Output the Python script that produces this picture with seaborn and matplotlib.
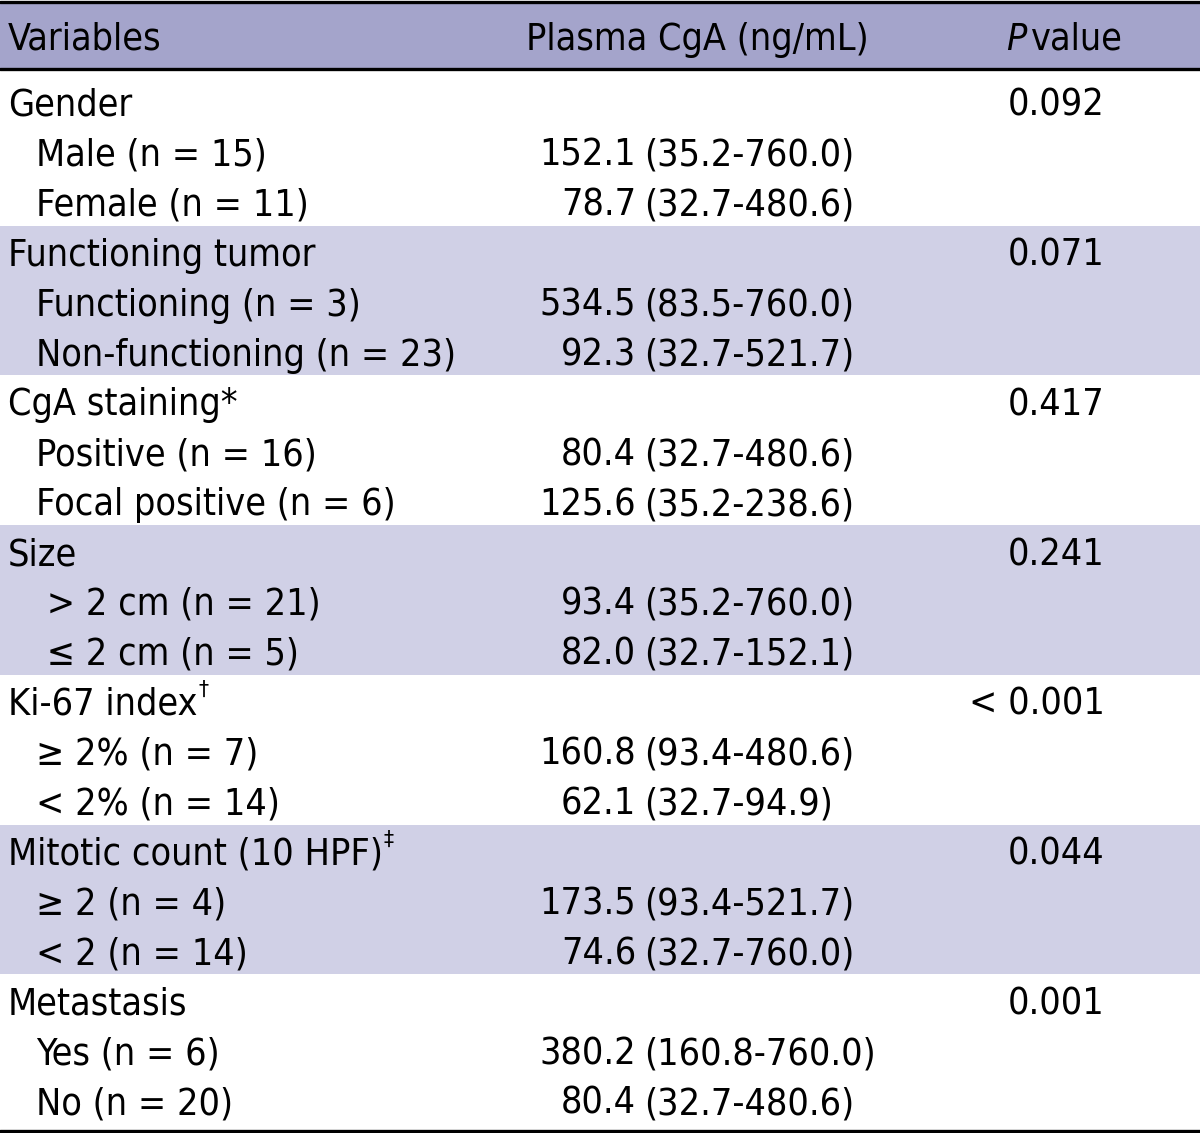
import matplotlib
matplotlib.use("Agg")
import matplotlib.pyplot as plt
from matplotlib import font_manager
import seaborn as sns

# table content
groups = ["Gender", "Functioning tumor", "CgA staining*", "Size",
          "Ki-67 index", "Mitotic count (10 HPF)", "Metastasis"]
group_marks = ["", "", "", "", "\u2020", "\u2021", ""]
p_values = ["0.092", "0.071", "0.417", "0.241", "< 0.001", "0.044", "0.001"]
sub_labels = [["Male (n = 15)", "Female (n = 11)"],
              ["Functioning (n = 3)", "Non-functioning (n = 23)"],
              ["Positive (n = 16)", "Focal positive (n = 6)"],
              [" > 2 cm (n = 21)", " \u2264 2 cm (n = 5)"],
              ["\u2265 2% (n = 7)", "< 2% (n = 14)"],
              ["\u2265 2 (n = 4)", "< 2 (n = 14)"],
              ["Yes (n = 6)", "No (n = 20)"]]
medians = [["152.1", "78.7"], ["534.5", "92.3"], ["80.4", "125.6"],
           ["93.4", "82.0"], ["160.8", "62.1"], ["173.5", "74.6"],
           ["380.2", "80.4"]]
ranges = [["(35.2-760.0)", "(32.7-480.6)"], ["(83.5-760.0)", "(32.7-521.7)"],
          ["(32.7-480.6)", "(35.2-238.6)"], ["(35.2-760.0)", "(32.7-152.1)"],
          ["(93.4-480.6)", "(32.7-94.9)"], ["(93.4-521.7)", "(32.7-760.0)"],
          ["(160.8-760.0)", "(32.7-480.6)"]]
headers = ["Variables", "Plasma CgA (ng/mL)", "value"]

sns.set_theme(style="white")
names = {f.name for f in font_manager.fontManager.ttflist}
stretch = "normal"
if "Liberation Sans Narrow" in names:
    fam = "Liberation Sans Narrow"
else:
    fam = "DejaVu Sans"
    stretch = "condensed"
plt.rcParams["font.family"] = [fam, "DejaVu Sans"]
plt.rcParams["font.stretch"] = stretch
plt.rcParams["text.color"] = "black"

header_bg = "#a4a4cb"
band_bg = "#d0d0e6"
fs = 27

fig = plt.figure(figsize=(12, 11.33), dpi=100)
ax = fig.add_axes([0, 0, 1, 1])
ax.set_xlim(0, 1200)
ax.set_ylim(1133, 0)
ax.axis("off")

pitch = 49.9
base0 = 116

# header
ax.axhspan(2, 69, color=header_bg, lw=0)
ax.axhline(2, color="black", lw=2.4)
ax.axhline(69, color="black", lw=2.4)
ax.text(8, 50, headers[0], fontsize=fs, ha="left", va="baseline")
ax.text(697, 50, headers[1], fontsize=fs, ha="center", va="baseline")
ax.text(1026, 50, "P", fontsize=fs, ha="right", va="baseline", style="italic")
ax.text(1031, 50, headers[2], fontsize=fs, ha="left", va="baseline")

fig.canvas.draw()
renderer = fig.canvas.get_renderer()

for g, name in enumerate(groups):
    top = 70 if g == 0 else base0 + 3 * g * pitch - 40
    bot = 1131 if g == len(groups) - 1 else base0 + 3 * (g + 1) * pitch - 40
    if g % 2 == 1:
        ax.axhspan(top, bot, color=band_bg, lw=0)
    yb = base0 + 3 * g * pitch
    t = ax.text(8, yb, name, fontsize=fs, ha="left", va="baseline")
    if group_marks[g]:
        ext = t.get_window_extent(renderer)
        ax.text(ext.x1 + 1, yb - 19, group_marks[g], fontsize=fs * 0.6,
                ha="left", va="baseline")
    ax.text(1105, yb, p_values[g], fontsize=fs, ha="right", va="baseline")
    for j in range(2):
        y = yb + (j + 1) * pitch
        ax.text(36, y, sub_labels[g][j], fontsize=fs, ha="left", va="baseline")
        ax.text(636, y, medians[g][j], fontsize=fs, ha="right", va="baseline")
        ax.text(644, y, ranges[g][j], fontsize=fs, ha="left", va="baseline")

ax.axhline(1131, color="black", lw=2.4)

fig.savefig("out.png", dpi=100)
